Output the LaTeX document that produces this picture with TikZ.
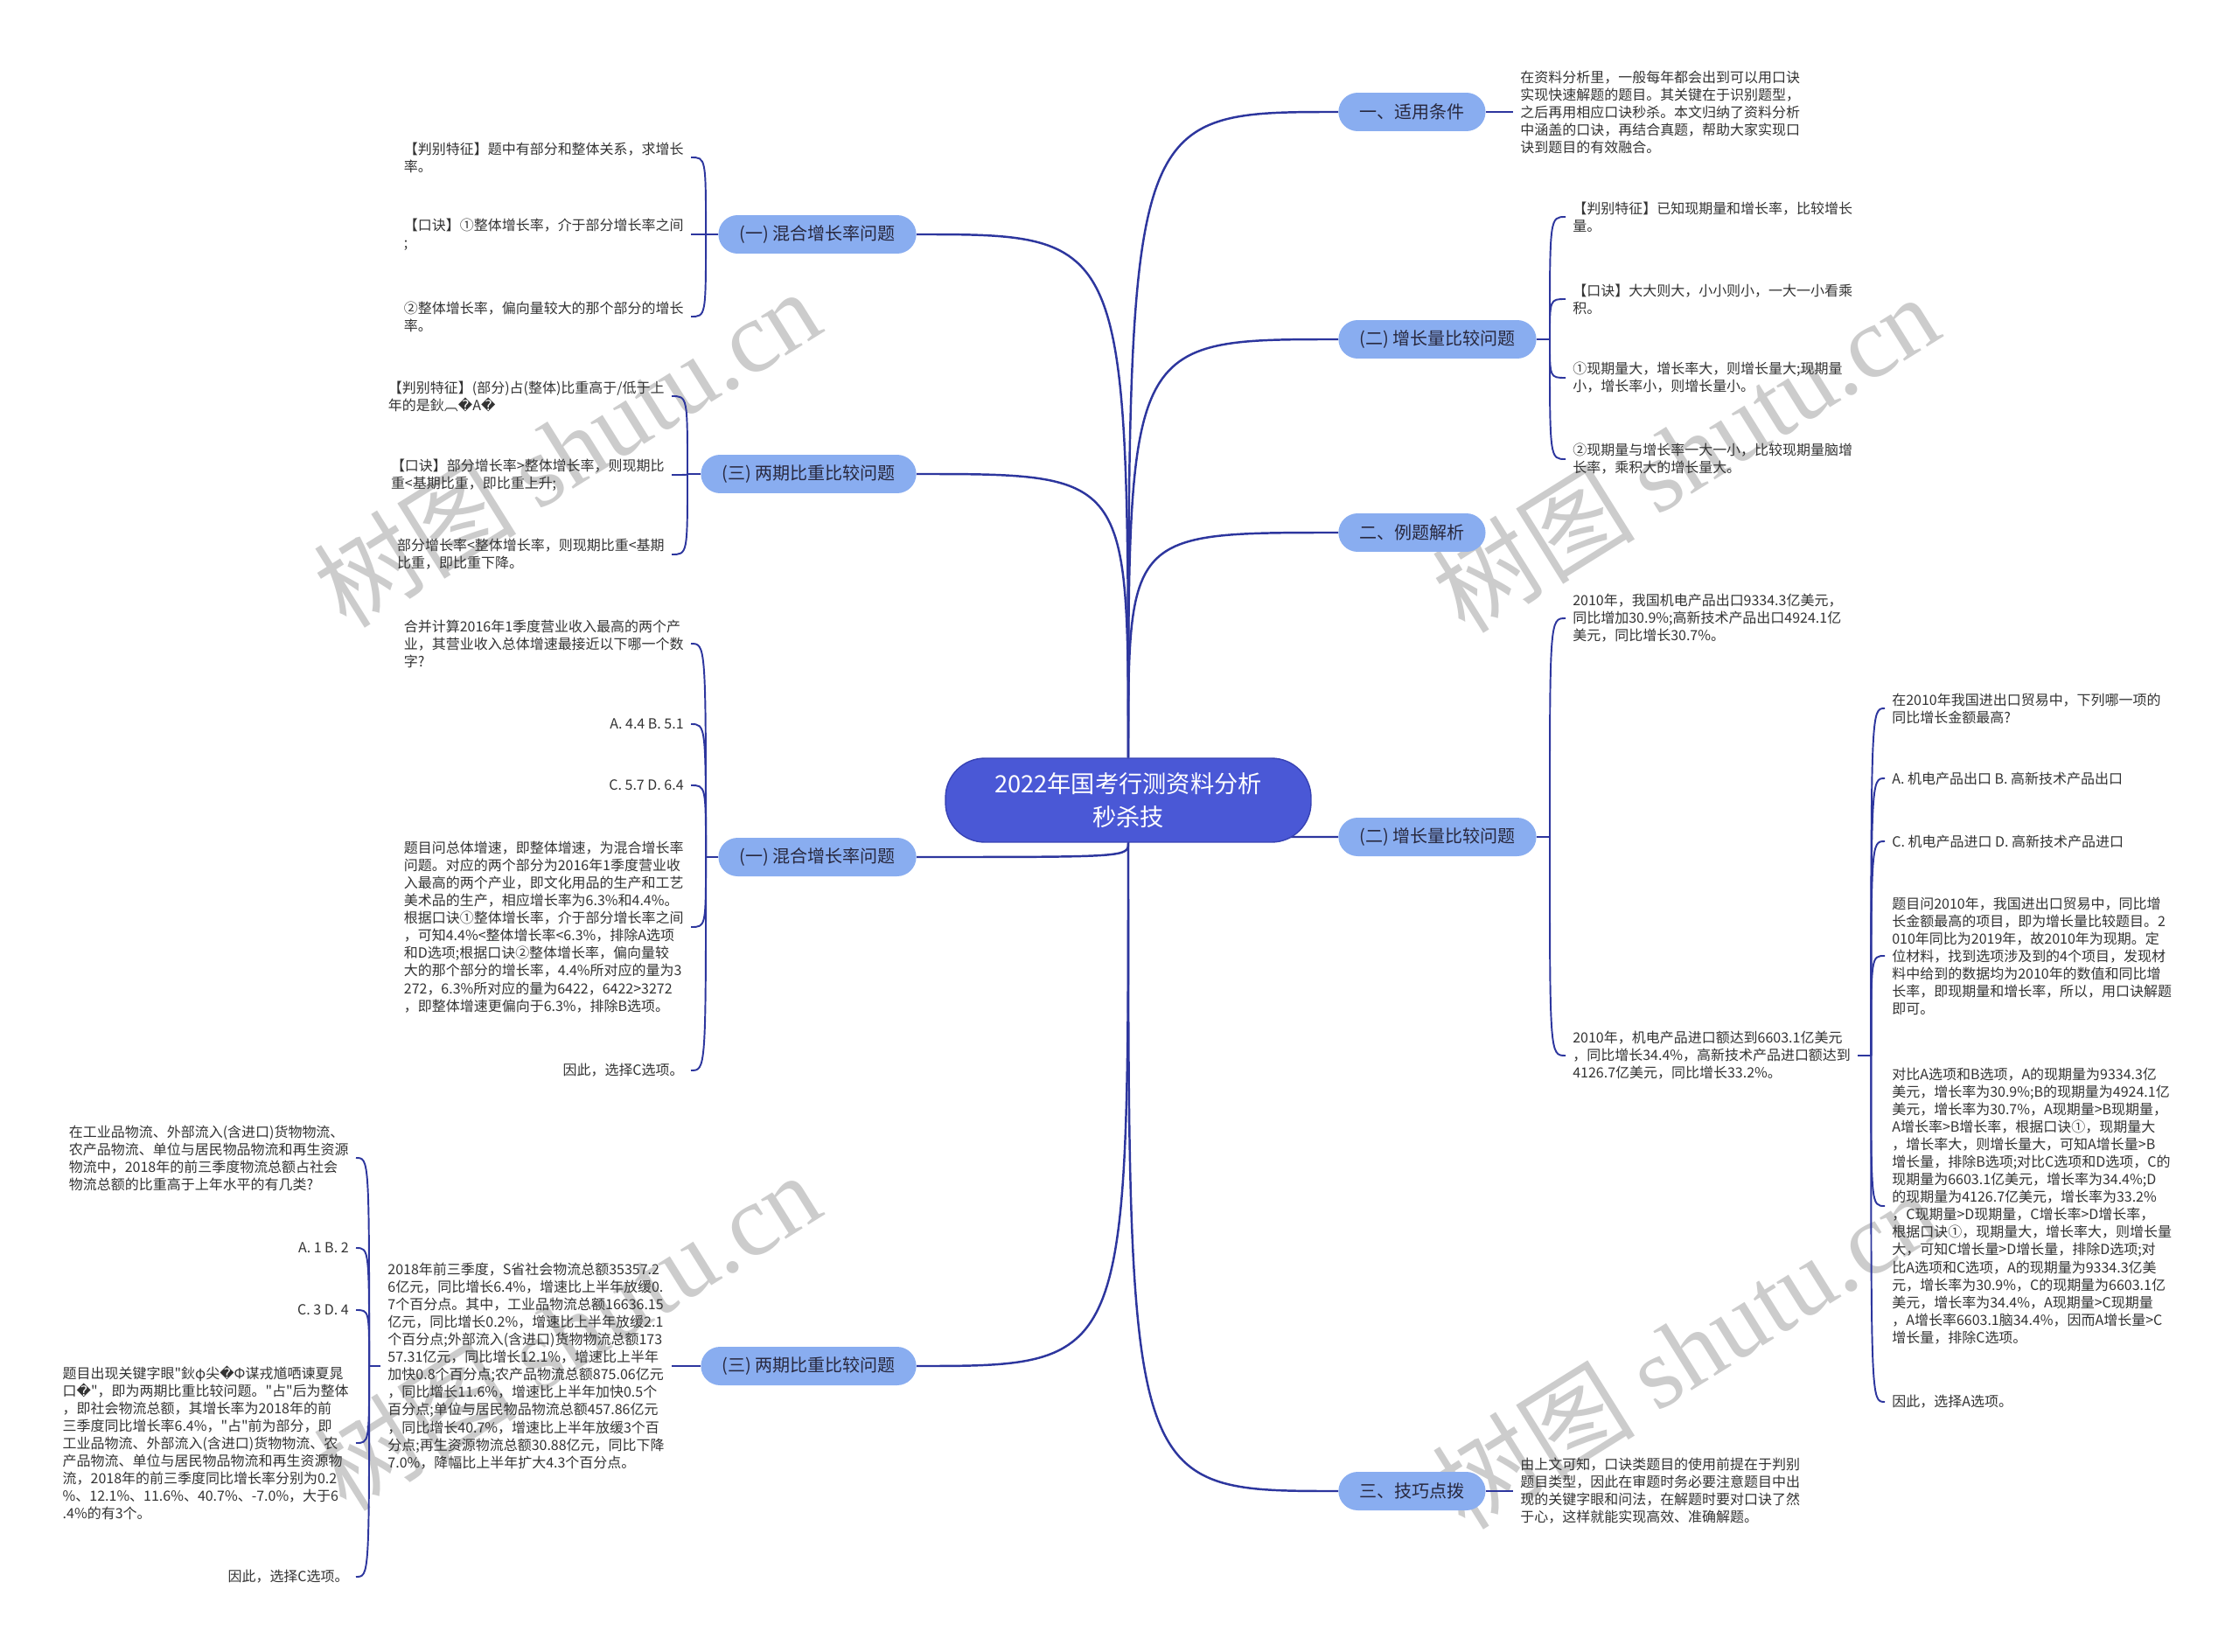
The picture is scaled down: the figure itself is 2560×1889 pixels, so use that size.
\documentclass[tikz,border=0pt]{standalone}
\usepackage{fontspec}
\setmainfont{Noto Sans CJK SC}[Ligatures=TeXOff]
\newfontfamily\symfont{DejaVu Sans}
\newfontfamily\markfont{Liberation Serif}
\usepackage{tikz}
\usetikzlibrary{positioning,backgrounds}
\usepackage{xcolor}

\definecolor{rootblue}{RGB}{74,88,214}
\definecolor{rootline}{RGB}{55,66,180}
\definecolor{topicblue}{RGB}{137,173,240}
\definecolor{topictext}{RGB}{40,40,62}
\definecolor{leaftext}{RGB}{51,51,51}
\definecolor{linkblue}{RGB}{45,54,158}
\newcommand{\badglyph}{{\symfont\symbol{"FFFD}}}

\begin{document}
\begin{tikzpicture}[
    x=0.02cm, y=-0.02cm,
    rootnode/.style={draw=rootline, line width=0.8pt, fill=rootblue, text=white, rounded corners=0.9cm, minimum width=8.36cm, minimum height=1.92cm, align=center, font=\fontsize{15.5pt}{21.6pt}\selectfont},
    topicnode/.style={fill=topicblue, text=topictext, rounded corners=0.44cm, minimum height=0.88cm, inner xsep=0.48cm, font=\fontsize{11.4pt}{13.7pt}\selectfont},
    lefttopic/.style={topicnode, anchor=east},
    righttopic/.style={topicnode, anchor=west},
    leafnode/.style={align=left, text=leaftext, inner xsep=0.16cm, inner ysep=0.08cm, font=\fontsize{9.1pt}{11.4pt}\selectfont},
    leftleaf/.style={leafnode, anchor=east},
    rightleaf/.style={leafnode, anchor=west},
    mainlink/.style={draw=linkblue, line width=1.4pt},
    leaflink/.style={draw=linkblue, line width=1.1pt},
    watermark/.style={text=black!20, rotate=32, font=\fontsize{66pt}{70pt}\selectfont}
]
\useasboundingbox (0,0) rectangle (2560,1889);

\begin{scope}[on background layer]
\fill[white] (0,0) rectangle (2560,1889);
\node[watermark] (wm1) at (648,512) {树图 {\markfont shutu.cn}};
\node[watermark] (wm2) at (1927,518) {树图 {\markfont shutu.cn}};
\node[watermark] (wm3) at (648,1522) {树图 {\markfont shutu.cn}};
\node[watermark] (wm4) at (1927,1543) {树图 {\markfont shutu.cn}};
\end{scope}

\node[rootnode] (root) at (1290,915) {2022年国考行测资料分析\\秒杀技};

\node[righttopic] (t1) at (1530,128) {一、适用条件};
\node[righttopic] (t2) at (1530,388) {(二) 增长量比较问题};
\node[righttopic] (t3) at (1530,609) {二、例题解析};
\node[righttopic] (t4) at (1530,957) {(二) 增长量比较问题};
\node[righttopic] (t5) at (1530,1705) {三、技巧点拨};
\node[lefttopic] (t6) at (1048,268) {(一) 混合增长率问题};
\node[lefttopic] (t7) at (1048,542) {(三) 两期比重比较问题};
\node[lefttopic] (t8) at (1048,980) {(一) 混合增长率问题};
\node[lefttopic] (t9) at (1048,1562) {(三) 两期比重比较问题};

\node[rightleaf] (g1) at (1730,128) {在资料分析里，一般每年都会出到可以用口诀\\实现快速解题的题目。其关键在于识别题型，\\之后再用相应口诀秒杀。本文归纳了资料分析\\中涵盖的口诀，再结合真题，帮助大家实现口\\诀到题目的有效融合。};

\node[rightleaf] (h1) at (1790,248) {【判别特征】已知现期量和增长率，比较增长\\量。};
\node[rightleaf] (h2) at (1790,342) {【口诀】大大则大，小小则小，一大一小看乘\\积。};
\node[rightleaf] (h3) at (1790,432) {①现期量大，增长率大，则增长量大;现期量\\小，增长率小，则增长量小。};
\node[rightleaf] (h4) at (1790,525) {②现期量与增长率一大一小，比较现期量脑增\\长率，乘积大的增长量大。};

\node[rightleaf] (i1) at (1790,707) {2010年，我国机电产品出口9334.3亿美元，\\同比增加30.9\%;高新技术产品出口4924.1亿\\美元，同比增长30.7\%。};
\node[rightleaf] (i2) at (1790,1207) {2010年，机电产品进口额达到6603.1亿美元\\，同比增长34.4\%，高新技术产品进口额达到\\4126.7亿美元，同比增长33.2\%。};

\node[rightleaf] (j1) at (2155,810) {在2010年我国进出口贸易中，下列哪一项的\\同比增长金额最高?};
\node[rightleaf] (j2) at (2155,890) {A. 机电产品出口 B. 高新技术产品出口};
\node[rightleaf] (j3) at (2155,962) {C. 机电产品进口 D. 高新技术产品进口};
\node[rightleaf] (j4) at (2155,1093) {题目问2010年，我国进出口贸易中，同比增\\长金额最高的项目，即为增长量比较题目。2\\010年同比为2019年，故2010年为现期。定\\位材料，找到选项涉及到的4个项目，发现材\\料中给到的数据均为2010年的数值和同比增\\长率，即现期量和增长率，所以，用口诀解题\\即可。};
\node[rightleaf] (j5) at (2155,1379) {对比A选项和B选项，A的现期量为9334.3亿\\美元，增长率为30.9\%;B的现期量为4924.1亿\\美元，增长率为30.7\%，A现期量>B现期量，\\A增长率>B增长率，根据口诀①，现期量大\\，增长率大，则增长量大，可知A增长量>B\\增长量，排除B选项;对比C选项和D选项，C的\\现期量为6603.1亿美元，增长率为34.4\%;D\\的现期量为4126.7亿美元，增长率为33.2\%\\，C现期量>D现期量，C增长率>D增长率，\\根据口诀①，现期量大，增长率大，则增长量\\大，可知C增长量>D增长量，排除D选项;对\\比A选项和C选项，A的现期量为9334.3亿美\\元，增长率为30.9\%，C的现期量为6603.1亿\\美元，增长率为34.4\%，A现期量>C现期量\\，A增长率6603.1脑34.4\%，因而A增长量>C\\增长量，排除C选项。};
\node[rightleaf] (j6) at (2155,1603) {因此，选择A选项。};

\node[rightleaf] (k1) at (1730,1705) {由上文可知，口诀类题目的使用前提在于判别\\题目类型，因此在审题时务必要注意题目中出\\现的关键字眼和问法，在解题时要对口诀了然\\于心，这样就能实现高效、准确解题。};

\node[leftleaf] (a1) at (790,180) {【判别特征】题中有部分和整体关系，求增长\\率。};
\node[leftleaf] (a2) at (790,268) {【口诀】①整体增长率，介于部分增长率之间\\;};
\node[leftleaf] (a3) at (790,362) {②整体增长率，偏向量较大的那个部分的增长\\率。};

\node[leftleaf] (b1) at (768,453) {【判别特征】(部分)占(整体)比重高于/低于上\\年的是鈥︹\badglyph A\badglyph};
\node[leftleaf] (b2) at (768,543) {【口诀】部分增长率>整体增长率，则现期比\\重<基期比重，即比重上升;};
\node[leftleaf] (b3) at (768,634) {部分增长率<整体增长率，则现期比重<基期\\比重，即比重下降。};

\node[leftleaf] (e1) at (790,736) {合并计算2016年1季度营业收入最高的两个产\\业，其营业收入总体增速最接近以下哪一个数\\字?};
\node[leftleaf] (e2) at (790,828) {A. 4.4 B. 5.1};
\node[leftleaf] (e3) at (790,898) {C. 5.7 D. 6.4};
\node[leftleaf] (e4) at (790,1060) {题目问总体增速，即整体增速，为混合增长率\\问题。对应的两个部分为2016年1季度营业收\\入最高的两个产业，即文化用品的生产和工艺\\美术品的生产，相应增长率为6.3\%和4.4\%。\\根据口诀①整体增长率，介于部分增长率之间\\，可知4.4\%<整体增长率<6.3\%，排除A选项\\和D选项;根据口诀②整体增长率，偏向量较\\大的那个部分的增长率，4.4\%所对应的量为3\\272，6.3\%所对应的量为6422，6422>3272\\，即整体增速更偏向于6.3\%，排除B选项。};
\node[leftleaf] (e5) at (790,1224) {因此，选择C选项。};

\node[leftleaf] (m9) at (768,1562) {2018年前三季度，S省社会物流总额35357.2\\6亿元，同比增长6.4\%，增速比上半年放缓0.\\7个百分点。其中，工业品物流总额16636.15\\亿元，同比增长0.2\%，增速比上半年放缓2.1\\个百分点;外部流入(含进口)货物物流总额173\\57.31亿元，同比增长12.1\%，增速比上半年\\加快0.8个百分点;农产品物流总额875.06亿元\\，同比增长11.6\%，增速比上半年加快0.5个\\百分点;单位与居民物品物流总额457.86亿元\\，同比增长40.7\%，增速比上半年放缓3个百\\分点;再生资源物流总额30.88亿元，同比下降\\7.0\%，降幅比上半年扩大4.3个百分点。};

\node[leftleaf] (f1) at (407,1324) {在工业品物流、外部流入(含进口)货物物流、\\农产品物流、单位与居民物品物流和再生资源\\物流中，2018年的前三季度物流总额占社会\\物流总额的比重高于上年水平的有几类?};
\node[leftleaf] (f2) at (407,1427) {A. 1 B. 2};
\node[leftleaf] (f3) at (407,1498) {C. 3 D. 4};
\node[leftleaf] (f4) at (407,1650) {题目出现关键字眼"鈥φ尖\badglyph Φ谋戎馗哂谏夏晁\\口\badglyph"，即为两期比重比较问题。"占"后为整体\\，即社会物流总额，其增长率为2018年的前\\三季度同比增长率6.4\%，"占"前为部分，即\\工业品物流、外部流入(含进口)货物物流、农\\产品物流、单位与居民物品物流和再生资源物\\流，2018年的前三季度同比增长率分别为0.2\\\%、12.1\%、11.6\%、40.7\%、-7.0\%，大于6\\.4\%的有3个。};
\node[leftleaf] (f5) at (407,1803) {因此，选择C选项。};

\coordinate (s2) at ([xshift=0.3cm]t2.east);
\coordinate (s4) at ([xshift=0.3cm]t4.east);
\coordinate (si) at ([xshift=0.3cm]i2.east);
\coordinate (s6) at ([xshift=-0.28cm]t6.west);
\coordinate (s7) at ([xshift=-0.3cm]t7.west);
\coordinate (s8) at ([xshift=-0.28cm]t8.west);
\coordinate (sm) at ([xshift=-0.26cm]m9.west);

\begin{scope}[on background layer]
\foreach \t in {t1,t2,t3}
    \draw[mainlink] (root.north) .. controls (root.north |- \t.west) .. (\t.west);
\foreach \t in {t6,t7}
    \draw[mainlink] (root.north) .. controls (root.north |- \t.east) .. (\t.east);
\foreach \t in {t4,t5}
    \draw[mainlink] (root.south) .. controls (root.south |- \t.west) .. (\t.west);
\foreach \t in {t8,t9}
    \draw[mainlink] (root.south) .. controls (root.south |- \t.east) .. (\t.east);

\draw[leaflink] (t1.east) -- (g1.west);
\draw[leaflink] (t5.east) -- (k1.west);
\draw[leaflink] (t9.west) -- (m9.east);

\draw[leaflink] (t2.east) -- (s2);
\foreach \n in {h1,h2,h3,h4}
    \draw[leaflink] (s2) .. controls (s2 |- \n.west) .. (\n.west);
\draw[leaflink] (t4.east) -- (s4);
\foreach \n in {i1,i2}
    \draw[leaflink] (s4) .. controls (s4 |- \n.west) .. (\n.west);
\draw[leaflink] (i2.east) -- (si);
\foreach \n in {j1,j2,j3,j4,j5,j6}
    \draw[leaflink] (si) .. controls (si |- \n.west) .. (\n.west);

\draw[leaflink] (t6.west) -- (s6);
\foreach \n in {a1,a2,a3}
    \draw[leaflink] (s6) .. controls (s6 |- \n.east) .. (\n.east);
\draw[leaflink] (t7.west) -- (s7);
\foreach \n in {b1,b2,b3}
    \draw[leaflink] (s7) .. controls (s7 |- \n.east) .. (\n.east);
\draw[leaflink] (t8.west) -- (s8);
\foreach \n in {e1,e2,e3,e4,e5}
    \draw[leaflink] (s8) .. controls (s8 |- \n.east) .. (\n.east);
\draw[leaflink] (m9.west) -- (sm);
\foreach \n in {f1,f2,f3,f4,f5}
    \draw[leaflink] (sm) .. controls (sm |- \n.east) .. (\n.east);
\end{scope}
\end{tikzpicture}
\end{document}
